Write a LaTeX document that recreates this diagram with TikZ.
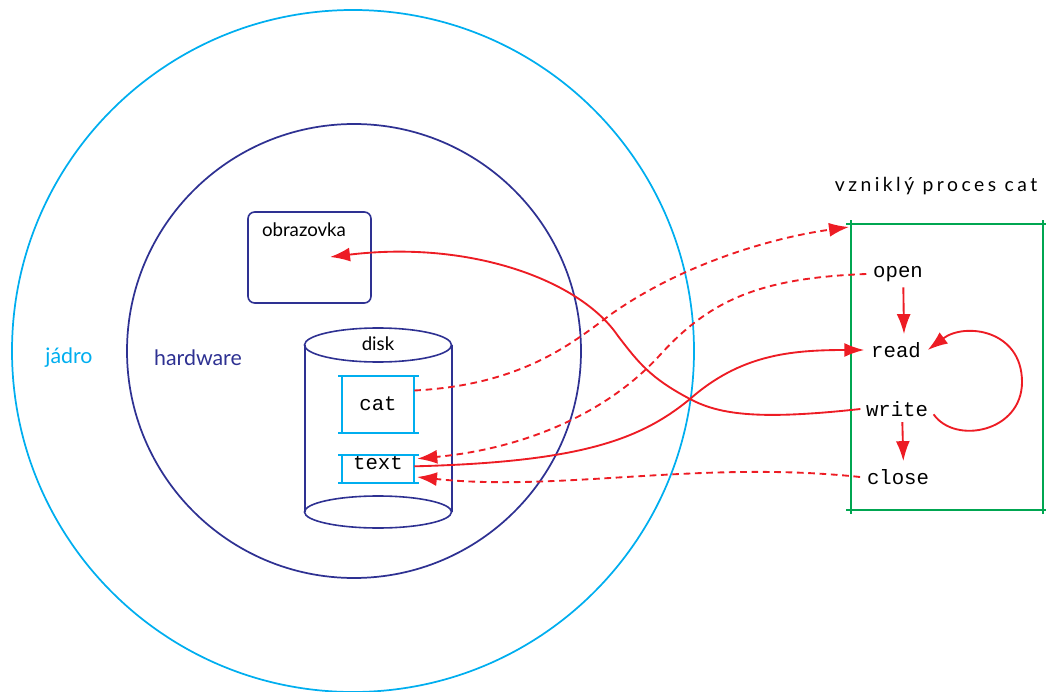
\documentclass[tikz,border=0pt]{standalone}
\usepackage{fontspec}
\setmainfont{Lato}
\setmonofont{Liberation Mono}
\newfontfamily\spacedfont[LetterSpace=18]{Lato}
\usepackage{tikz}
\usetikzlibrary{arrows.meta,calc}

\definecolor{jadroc}{RGB}{0,174,239}
\definecolor{hwc}{RGB}{46,49,146}
\definecolor{callc}{RGB}{237,28,36}
\definecolor{procc}{RGB}{0,166,81}

\begin{document}
\begin{tikzpicture}[
    x=0.75pt, y=-0.75pt,
    >={Latex[length=15pt,width=10.5pt]},
    lbl/.style   = {font=\fontsize{14}{17}\selectfont, inner sep=1pt},
    ringlbl/.style = {font=\fontsize{16}{19}\selectfont, inner sep=1pt},
    tt/.style    = {font=\fontsize{15.5}{18}\selectfont\ttfamily, inner sep=1pt},
    ring/.style  = {draw, line width=1.3pt},
    hwline/.style= {draw=hwc, line width=1.2pt},
    filebox/.style = {draw=jadroc, line width=1.2pt},
    filef/.style = {rectangle, inner sep=0pt},
    proc/.style  = {draw=procc, line width=1.2pt},
    call/.style  = {draw=callc, line width=1.4pt, ->},
    maybe/.style = {call, dash pattern=on 5pt off 3.5pt},
]
\useasboundingbox (0,0) rectangle (1047,692);

% ============ rings: jadro and hardware ============
\draw[ring, jadroc] (353,351) circle (341);
\draw[ring, hwc] (354,351) circle (227);
\node[ringlbl, text=jadroc] (jadro) at (69,358) {jádro};
\node[ringlbl, text=hwc] (hw) at (198,358) {hardware};

% ============ screen ============
\draw[hwline, rounded corners=5pt] (248,212) rectangle (371,303);
\node[lbl] (obr) at (304,230) {obrazovka};
\coordinate (scr) at (330,257);

% ============ disk with two files ============
\draw[hwline] (305,345) -- (305,512);
\draw[hwline] (452,345) -- (452,512);
\draw[hwline] (378,345) ellipse (73.5 and 17);
\draw[hwline] (378,512) ellipse (73.5 and 16);
\node[lbl] (disk) at (378,344) {disk};
% file cat
\node[filef, minimum width=54pt, minimum height=42.75pt] (catf) at (378,404.5) {};
\node[tt] (cat) at (378,404) {cat};
\draw[filebox] (338,376) -- (419,376) (338,433) -- (419,433)
               (342,376) -- (342,433) (414,376) -- (414,433);
% file text
\node[filef, minimum width=54pt, minimum height=21pt] (textf) at (378,469) {};
\node[tt] (text) at (378,463) {text};
\draw[filebox] (338,455) -- (419,455) (338,483) -- (419,483)
               (342,455) -- (342,483) (414,455) -- (414,483);

% ============ process cat ============
\node[font=\fontsize{14.5}{17}\selectfont\spacedfont] (ttl) at (936,186) {vzniklý proces cat};
\draw[proc] (846,224) -- (1046,224) (846,510) -- (1046,510)
            (851,220) -- (851,514) (1043,220) -- (1043,514);
\coordinate (pc) at (849,227);
\node[tt] (open)  at (898,274) {open};
\node[tt] (read)  at (896,350) {read};
\node[tt] (write) at (897,409) {write};
\node[tt] (close) at (898,477) {close};
\draw[call] ([xshift=4pt,yshift=-3pt]open.south) -- ([xshift=6pt,yshift=5pt]read.north);
\draw[call] ([xshift=4pt,yshift=-3pt]write.south) -- ([xshift=4pt,yshift=5pt]close.north);
% loop write -> read
\draw[call] ([xshift=3pt,yshift=-4pt]write.east) .. controls (955,445) and (1022,432) .. (1022,382)
    .. controls (1022,330) and (965,322) .. ([xshift=4pt]read.east);

% ============ system calls ============
\draw[maybe] ([yshift=10.5pt]catf.east) .. controls (520,385) and (570,345) .. (610,315)
    .. controls (680,265) and (770,238) .. (pc);
\draw[maybe] ([xshift=-4pt]open.west) .. controls (760,278) and (710,300) .. (660,355)
    .. controls (610,410) and (530,448) .. ($(textf.north east)+(3,4)$);
\draw[call] ([yshift=2pt]textf.east) .. controls (580,462) and (640,440) .. (690,399)
    .. controls (740,355) and (790,350) .. ([xshift=-4pt]read.west);
\draw[call] ([xshift=-3pt]write.west) .. controls (760,420) and (720,415) .. (690,399)
    .. controls (650,378) and (638,362) .. (618,336)
    .. controls (580,280) and (470,240) .. (scr);
\draw[maybe] ([xshift=-4pt]close.west) .. controls (700,460) and (560,492) .. ([yshift=-6pt,xshift=2pt]textf.east);

\end{tikzpicture}
\end{document}
